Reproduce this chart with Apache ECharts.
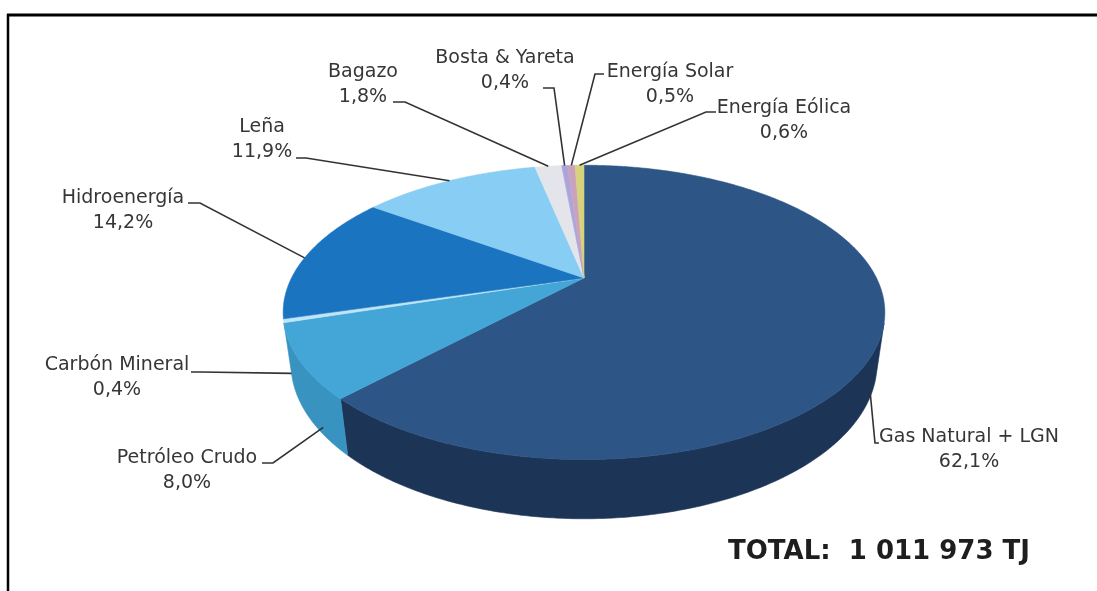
<!DOCTYPE html>
<html>
<head>
<meta charset="utf-8">
<script src="https://cdn.jsdelivr.net/npm/echarts@6/dist/echarts.min.js"></script>
<style>
  html, body { margin: 0; padding: 0; background: #ffffff; }
  #chart { width: 1097px; height: 591px; }
</style>
</head>
<body>
<div id="chart"></div>
<script>
// Energy sources (share of total primary production, %)
const categories = ['Gas Natural + LGN', 'Petróleo Crudo', 'Carbón Mineral', 'Hidroenergía',
                    'Leña', 'Bagazo', 'Bosta & Yareta', 'Energía Solar', 'Energía Eólica'];
const shares = [62.1, 8.0, 0.4, 14.2, 11.9, 1.8, 0.4, 0.5, 0.6];
const totalText = 'TOTAL:  1 011 973 TJ';

// Slice colours: top face and darker side wall
const topColors  = ['#2D5586', '#43A6D7', '#BFE6F8', '#1B74BF', '#88CDF3', '#E4E5EB', '#ABA5DC', '#C9A3BE', '#D6D27E'];
const sideColors = ['#1C3455', '#3893C1', '#9CCDE4', '#155E9C', '#6FB3DA', '#C5C6CC', '#8F89BE', '#A986A0', '#B5B066'];

// Label placement: text centre x, first-line y, elbow points, and where the leader touches the slice
// (fraction along the slice, depth fraction 0 = top rim, 1 = bottom rim)
const labelLayout = [
  { x: 969, y: 437, elbow: [[879, 443], [875, 443]], at: [0.52, 0.8] },
  { x: 187, y: 458, elbow: [[262, 463], [273, 463]], at: [0.26, 0.85] },
  { x: 117, y: 365, elbow: [[191, 372], [201, 372]], at: [0.5, 1.0] },
  { x: 123, y: 198, elbow: [[188, 203], [200, 203]], at: [0.48, 0] },
  { x: 262, y: 127, elbow: [[296, 158], [306, 158]], at: [0.5, 0] },
  { x: 363, y: 72,  elbow: [[393, 102], [405, 102]], at: [0.5, 0] },
  { x: 505, y: 58,  elbow: [[543, 88],  [554, 88]],  at: [0.5, 0] },
  { x: 670, y: 72,  elbow: [[604, 74],  [595, 74]],  at: [0.5, 0] },
  { x: 784, y: 108, elbow: [[716, 112], [706, 112]], at: [0.5, 0] }
];

// Perspective view of the tilted disc
const VIEW = { cx: 584, cy: 278, k: 1101, dist: 3.764, tilt: 28.4 * Math.PI / 180, depth: 0.2 };

function project(theta, h) {
  const s = Math.sin(VIEW.tilt), c = Math.cos(VIEW.tilt);
  const y = -VIEW.depth * h;
  const dep = -y * s + VIEW.dist + Math.cos(theta) * c;
  const up = y * c + Math.cos(theta) * s;
  return [VIEW.cx + VIEW.k * Math.sin(theta) / dep, VIEW.cy - VIEW.k * up / dep];
}
const apex = [VIEW.cx, VIEW.cy];

const total = shares.reduce((a, b) => a + b, 0);
function sliceRange(i, api) {
  let before = 0;
  for (let j = 0; j < i; j++) before += shares[j];
  const a0 = before / total * 2 * Math.PI;
  const a1 = (before + api.value(1)) / total * 2 * Math.PI;
  return [a0, a1];
}

function arc(a0, a1, h) {
  const pts = [];
  const n = Math.max(2, Math.ceil((a1 - a0) / (0.5 * Math.PI / 180)));
  for (let t = 0; t <= n; t++) pts.push(project(a0 + (a1 - a0) * t / n, h));
  return pts;
}

// visible part of the outer wall
const wallLimit = Math.acos(-1 / (VIEW.dist * Math.cos(VIEW.tilt)));

function renderSide(params, api) {
  const i = params.dataIndex;
  const [a0, a1] = sliceRange(i, api);
  const s0 = Math.max(a0, wallLimit), s1 = Math.min(a1, 2 * Math.PI - wallLimit);
  if (s1 <= s0) return null;
  const pts = arc(s0, s1, 0).concat(arc(s0, s1, 1).reverse());
  return { type: 'polygon', shape: { points: pts },
           style: { fill: sideColors[i], stroke: sideColors[i], lineWidth: 0.6 } };
}

function renderTop(params, api) {
  const i = params.dataIndex;
  const [a0, a1] = sliceRange(i, api);
  const pts = [apex].concat(arc(a0, a1, 0));
  return { type: 'polygon', shape: { points: pts },
           style: { fill: topColors[i], stroke: topColors[i], lineWidth: 0.6 } };
}

function fmtPct(v) { return v.toFixed(1).replace('.', ',') + '%'; }

function renderLabel(params, api) {
  const i = params.dataIndex;
  const [a0, a1] = sliceRange(i, api);
  const lay = labelLayout[i];
  const tip = project(a0 + (a1 - a0) * lay.at[0], lay.at[1]);
  const font = '19px "DejaVu Sans", sans-serif';
  return {
    type: 'group',
    children: [
      { type: 'polyline', shape: { points: [lay.elbow[0], lay.elbow[1], tip] },
        style: { stroke: '#333333', lineWidth: 1.6, fill: null } },
      { type: 'text', style: { text: categories[i], x: lay.x, y: lay.y, font: font,
        fill: '#363636', align: 'center', verticalAlign: 'middle' } },
      { type: 'text', style: { text: fmtPct(api.value(1)), x: lay.x, y: lay.y + 25, font: font,
        fill: '#363636', align: 'center', verticalAlign: 'middle' } }
    ]
  };
}

const seriesData = shares.map((v, i) => [i, v]);
const chart = echarts.init(document.getElementById('chart'), null, { renderer: 'canvas' });
chart.setOption({
  backgroundColor: '#ffffff',
  animation: false,
  graphic: [
    { type: 'line', shape: { x1: 7, y1: 15, x2: 1097, y2: 15 }, style: { stroke: '#000', lineWidth: 3 } },
    { type: 'line', shape: { x1: 8, y1: 14, x2: 8, y2: 591 }, style: { stroke: '#000', lineWidth: 2.5 } },
    { type: 'text', left: 728, top: 539,
      style: { text: totalText, font: 'bold 26px "DejaVu Sans", sans-serif', fill: '#1e1e1e' } }
  ],
  series: [
    { type: 'custom', coordinateSystem: 'none', z: 1, silent: true, data: seriesData, renderItem: renderSide },
    { type: 'custom', coordinateSystem: 'none', z: 2, silent: true, data: seriesData, renderItem: renderTop },
    { type: 'custom', coordinateSystem: 'none', z: 3, silent: true, data: seriesData, renderItem: renderLabel }
  ]
});
</script>
</body>
</html>
